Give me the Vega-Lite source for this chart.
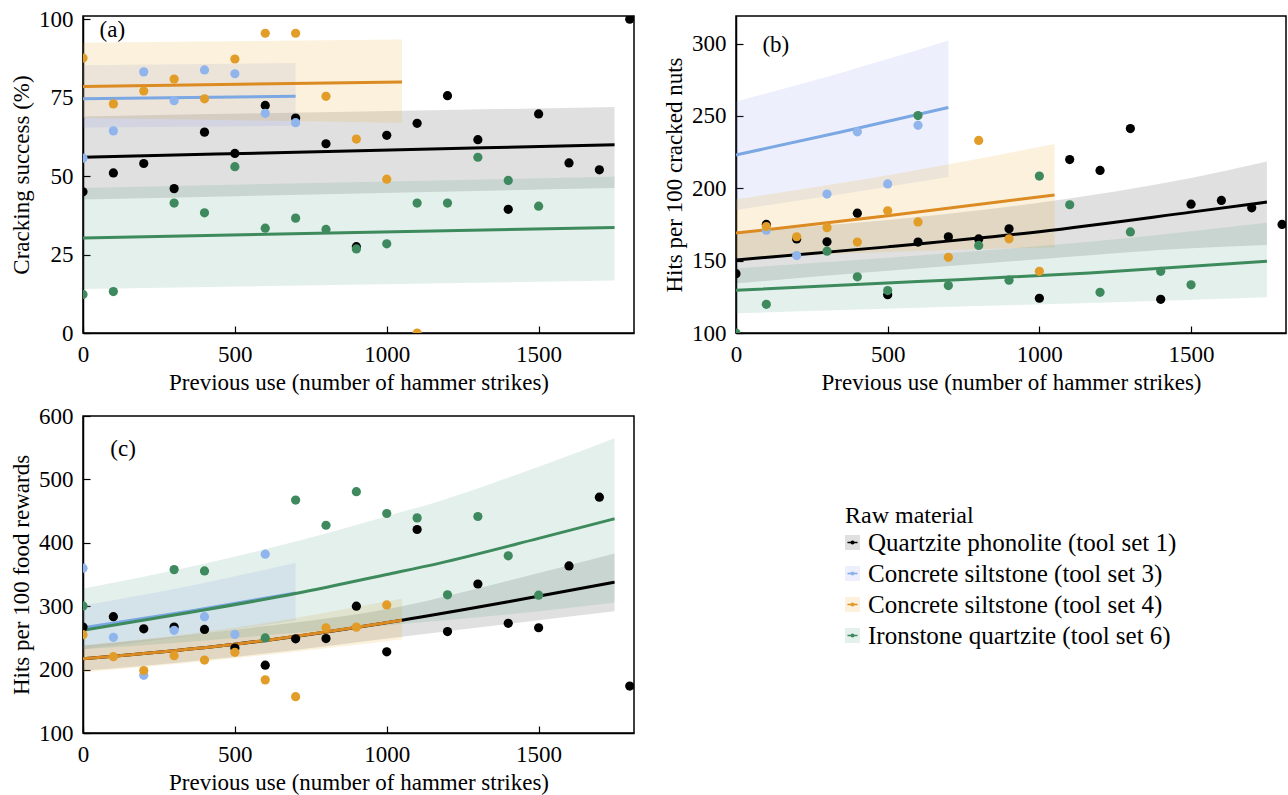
{
  "$schema": "https://vega.github.io/schema/vega-lite/v6.json",
  "background": "white",
  "padding": {"left": 9, "top": 7, "right": 0, "bottom": 0},
  "datasets": {
    "pts": [
      {"p":"a","m":"1","x":0,"y":45},{"p":"a","m":"1","x":100,"y":51},{"p":"a","m":"1","x":200,"y":54},{"p":"a","m":"1","x":300,"y":46},{"p":"a","m":"1","x":400,"y":64},{"p":"a","m":"1","x":500,"y":57.2},{"p":"a","m":"1","x":600,"y":72.5},{"p":"a","m":"1","x":700,"y":68.5},{"p":"a","m":"1","x":800,"y":60.3},{"p":"a","m":"1","x":900,"y":27.5},{"p":"a","m":"1","x":1000,"y":63},{"p":"a","m":"1","x":1100,"y":66.8},{"p":"a","m":"1","x":1200,"y":75.6},{"p":"a","m":"1","x":1300,"y":61.6},{"p":"a","m":"1","x":1400,"y":39.4},{"p":"a","m":"1","x":1500,"y":69.8},{"p":"a","m":"1","x":1600,"y":54.2},{"p":"a","m":"1","x":1700,"y":52},{"p":"a","m":"1","x":1800,"y":100},
      {"p":"a","m":"3","x":0,"y":55.7},{"p":"a","m":"3","x":100,"y":64.4},{"p":"a","m":"3","x":200,"y":83.2},{"p":"a","m":"3","x":300,"y":74},{"p":"a","m":"3","x":400,"y":83.8},{"p":"a","m":"3","x":500,"y":82.6},{"p":"a","m":"3","x":600,"y":70},{"p":"a","m":"3","x":700,"y":67},
      {"p":"a","m":"4","x":0,"y":87.6},{"p":"a","m":"4","x":100,"y":73},{"p":"a","m":"4","x":200,"y":77.1},{"p":"a","m":"4","x":300,"y":80.9},{"p":"a","m":"4","x":400,"y":74.6},{"p":"a","m":"4","x":500,"y":87.3},{"p":"a","m":"4","x":600,"y":95.5},{"p":"a","m":"4","x":700,"y":95.5},{"p":"a","m":"4","x":800,"y":75.4},{"p":"a","m":"4","x":900,"y":61.8},{"p":"a","m":"4","x":1000,"y":49},{"p":"a","m":"4","x":1100,"y":0},
      {"p":"a","m":"6","x":0,"y":12.3},{"p":"a","m":"6","x":100,"y":13.2},{"p":"a","m":"6","x":300,"y":41.4},{"p":"a","m":"6","x":400,"y":38.3},{"p":"a","m":"6","x":500,"y":53},{"p":"a","m":"6","x":600,"y":33.4},{"p":"a","m":"6","x":700,"y":36.6},{"p":"a","m":"6","x":800,"y":33},{"p":"a","m":"6","x":900,"y":26.8},{"p":"a","m":"6","x":1000,"y":28.4},{"p":"a","m":"6","x":1100,"y":41.4},{"p":"a","m":"6","x":1200,"y":41.4},{"p":"a","m":"6","x":1300,"y":56},{"p":"a","m":"6","x":1400,"y":48.6},{"p":"a","m":"6","x":1500,"y":40.4},
      {"p":"b","m":"1","x":0,"y":141},{"p":"b","m":"1","x":100,"y":175},{"p":"b","m":"1","x":200,"y":165},{"p":"b","m":"1","x":300,"y":163},{"p":"b","m":"1","x":400,"y":182.8},{"p":"b","m":"1","x":500,"y":126.5},{"p":"b","m":"1","x":600,"y":162.8},{"p":"b","m":"1","x":700,"y":166.5},{"p":"b","m":"1","x":800,"y":165},{"p":"b","m":"1","x":900,"y":172},{"p":"b","m":"1","x":1000,"y":124},{"p":"b","m":"1","x":1100,"y":219.8},{"p":"b","m":"1","x":1200,"y":212.3},{"p":"b","m":"1","x":1300,"y":241.2},{"p":"b","m":"1","x":1400,"y":123.3},{"p":"b","m":"1","x":1500,"y":189},{"p":"b","m":"1","x":1600,"y":191.6},{"p":"b","m":"1","x":1700,"y":186.5},{"p":"b","m":"1","x":1800,"y":175},
      {"p":"b","m":"3","x":100,"y":171},{"p":"b","m":"3","x":200,"y":153.5},{"p":"b","m":"3","x":300,"y":196},{"p":"b","m":"3","x":400,"y":239},{"p":"b","m":"3","x":500,"y":203},{"p":"b","m":"3","x":600,"y":243.5},
      {"p":"b","m":"4","x":100,"y":173.5},{"p":"b","m":"4","x":200,"y":166.5},{"p":"b","m":"4","x":300,"y":172.8},{"p":"b","m":"4","x":400,"y":162.8},{"p":"b","m":"4","x":500,"y":184.4},{"p":"b","m":"4","x":600,"y":176.7},{"p":"b","m":"4","x":700,"y":152.3},{"p":"b","m":"4","x":800,"y":233},{"p":"b","m":"4","x":900,"y":165.1},{"p":"b","m":"4","x":1000,"y":142.6},
      {"p":"b","m":"6","x":0,"y":100},{"p":"b","m":"6","x":100,"y":119.8},{"p":"b","m":"6","x":300,"y":156.5},{"p":"b","m":"6","x":400,"y":138.8},{"p":"b","m":"6","x":500,"y":129.3},{"p":"b","m":"6","x":600,"y":250.2},{"p":"b","m":"6","x":700,"y":132.8},{"p":"b","m":"6","x":800,"y":160.5},{"p":"b","m":"6","x":900,"y":136.5},{"p":"b","m":"6","x":1000,"y":208.4},{"p":"b","m":"6","x":1100,"y":188.6},{"p":"b","m":"6","x":1200,"y":128.1},{"p":"b","m":"6","x":1300,"y":169.8},{"p":"b","m":"6","x":1400,"y":142.6},{"p":"b","m":"6","x":1500,"y":133.3},
      {"p":"c","m":"1","x":0,"y":267},{"p":"c","m":"1","x":100,"y":283.5},{"p":"c","m":"1","x":200,"y":264.4},{"p":"c","m":"1","x":300,"y":267},{"p":"c","m":"1","x":400,"y":263.3},{"p":"c","m":"1","x":500,"y":234},{"p":"c","m":"1","x":600,"y":207},{"p":"c","m":"1","x":700,"y":248.5},{"p":"c","m":"1","x":800,"y":249},{"p":"c","m":"1","x":900,"y":300},{"p":"c","m":"1","x":1000,"y":228},{"p":"c","m":"1","x":1100,"y":421},{"p":"c","m":"1","x":1200,"y":260},{"p":"c","m":"1","x":1300,"y":335},{"p":"c","m":"1","x":1400,"y":273},{"p":"c","m":"1","x":1500,"y":266},{"p":"c","m":"1","x":1600,"y":363.5},{"p":"c","m":"1","x":1700,"y":472},{"p":"c","m":"1","x":1800,"y":174},
      {"p":"c","m":"3","x":0,"y":360},{"p":"c","m":"3","x":100,"y":251},{"p":"c","m":"3","x":200,"y":191},{"p":"c","m":"3","x":300,"y":262},{"p":"c","m":"3","x":400,"y":283.5},{"p":"c","m":"3","x":500,"y":255.4},{"p":"c","m":"3","x":600,"y":382},
      {"p":"c","m":"4","x":0,"y":255},{"p":"c","m":"4","x":100,"y":220.4},{"p":"c","m":"4","x":200,"y":198.6},{"p":"c","m":"4","x":300,"y":222},{"p":"c","m":"4","x":400,"y":215},{"p":"c","m":"4","x":500,"y":227.3},{"p":"c","m":"4","x":600,"y":183.8},{"p":"c","m":"4","x":700,"y":157.3},{"p":"c","m":"4","x":800,"y":266},{"p":"c","m":"4","x":900,"y":267},{"p":"c","m":"4","x":1000,"y":302},
      {"p":"c","m":"6","x":0,"y":300.4},{"p":"c","m":"6","x":300,"y":357.7},{"p":"c","m":"6","x":400,"y":355.6},{"p":"c","m":"6","x":600,"y":250},{"p":"c","m":"6","x":700,"y":467.4},{"p":"c","m":"6","x":800,"y":427.7},{"p":"c","m":"6","x":900,"y":480.7},{"p":"c","m":"6","x":1000,"y":446.2},{"p":"c","m":"6","x":1100,"y":439.3},{"p":"c","m":"6","x":1200,"y":317.9},{"p":"c","m":"6","x":1300,"y":441.5},{"p":"c","m":"6","x":1400,"y":379.4},{"p":"c","m":"6","x":1500,"y":317.4}
    ],
    "fit": [
      {"p":"a","m":"1","x":0,"y":56,"lo":42.5,"hi":69},{"p":"a","m":"1","x":875,"y":58,"lo":44.4,"hi":70.5},{"p":"a","m":"1","x":1750,"y":60,"lo":46.2,"hi":72},
      {"p":"a","m":"3","x":0,"y":74.6,"lo":65.5,"hi":85.3},{"p":"a","m":"3","x":700,"y":75.4,"lo":66,"hi":86},
      {"p":"a","m":"4","x":0,"y":78.5,"lo":68.5,"hi":92.5},{"p":"a","m":"4","x":1050,"y":80,"lo":67,"hi":93.5},
      {"p":"a","m":"6","x":0,"y":30.3,"lo":14,"hi":46.2},{"p":"a","m":"6","x":1750,"y":33.6,"lo":16.7,"hi":49.8},
      {"p":"b","m":"1","x":0,"y":150.4,"lo":134.3,"hi":170},{"p":"b","m":"1","x":500,"y":159.5,"lo":143,"hi":178},{"p":"b","m":"1","x":1000,"y":170,"lo":151,"hi":190},{"p":"b","m":"1","x":1500,"y":183.5,"lo":158.5,"hi":207},{"p":"b","m":"1","x":1750,"y":190.5,"lo":160.8,"hi":218.4},
      {"p":"b","m":"3","x":0,"y":223,"lo":185,"hi":260},{"p":"b","m":"3","x":350,"y":239,"lo":196,"hi":280},{"p":"b","m":"3","x":700,"y":255.8,"lo":207.7,"hi":302},
      {"p":"b","m":"4","x":0,"y":169,"lo":152,"hi":192.4},{"p":"b","m":"4","x":500,"y":181,"lo":156,"hi":209},{"p":"b","m":"4","x":1050,"y":195.3,"lo":159.3,"hi":230.5},
      {"p":"b","m":"6","x":0,"y":129.5,"lo":113.6,"hi":144.7},{"p":"b","m":"6","x":600,"y":135.5,"lo":117.5,"hi":153.5},{"p":"b","m":"6","x":1165,"y":141.5,"lo":120.8,"hi":163},{"p":"b","m":"6","x":1750,"y":149.5,"lo":124.7,"hi":176.2},
      {"p":"c","m":"1","x":0,"y":217,"lo":198,"hi":238},{"p":"c","m":"1","x":500,"y":240,"lo":220,"hi":263},{"p":"c","m":"1","x":1050,"y":278,"lo":252,"hi":300},{"p":"c","m":"1","x":1400,"y":307,"lo":272,"hi":340},{"p":"c","m":"1","x":1750,"y":338,"lo":292,"hi":383},
      {"p":"c","m":"3","x":0,"y":266,"lo":232,"hi":301},{"p":"c","m":"3","x":350,"y":292,"lo":253,"hi":332},{"p":"c","m":"3","x":700,"y":321,"lo":277,"hi":368},
      {"p":"c","m":"4","x":0,"y":217,"lo":196,"hi":238},{"p":"c","m":"4","x":500,"y":240,"lo":218,"hi":266},{"p":"c","m":"4","x":1050,"y":278,"lo":248,"hi":312},
      {"p":"c","m":"6","x":0,"y":262,"lo":232,"hi":328},{"p":"c","m":"6","x":350,"y":290,"lo":244,"hi":362},{"p":"c","m":"6","x":700,"y":320,"lo":258,"hi":402},{"p":"c","m":"6","x":1000,"y":350,"lo":270,"hi":442},{"p":"c","m":"6","x":1175,"y":368,"lo":277,"hi":466},{"p":"c","m":"6","x":1500,"y":407,"lo":292,"hi":520},{"p":"c","m":"6","x":1750,"y":438,"lo":306,"hi":565}
    ],
    "lab": [
      {"p":"a","x":54.6,"y":96.4,"t":"(a)"},
      {"p":"b","x":87,"y":299,"t":"(b)"},
      {"p":"c","x":90,"y":547.6,"t":"(c)"}
    ]
  },
  "vconcat": [
    {
      "hconcat": [
        {
          "width": 551, "height": 317,
          "layer": [
            {"data": {"name": "fit"}, "transform": [{"filter": "datum.p == 'a'"}],
             "mark": {"type": "area", "clip": true, "interpolate": "monotone"},
             "encoding": {
               "x": {"field": "x", "type": "quantitative", "scale": {"domain": [0, 1814], "nice": false}, "axis": {"values": [0, 500, 1000, 1500], "format": "d", "title": "Previous use (number of hammer strikes)"}},
               "y": {"field": "lo", "type": "quantitative", "stack": null, "scale": {"domain": [0, 101], "nice": false}, "axis": {"values": [0, 25, 50, 75, 100], "format": "d", "title": "Cracking success (%)"}},
               "y2": {"field": "hi"},
               "fill": {"field": "m", "type": "nominal", "scale": {"domain": ["1","3","4","6"], "range": ["rgba(0,0,0,0.12)", "rgba(115,140,235,0.13)", "rgba(230,170,40,0.16)", "rgba(50,140,110,0.13)"]},
                        "legend": {"title": "Raw material", "orient": "none", "legendX": 762, "legendY": 488, "symbolType": "square", "symbolSize": 225, "symbolStrokeWidth": 0, "labelExpr": "datum.label == '1' ? 'Quartzite phonolite (tool set 1)' : datum.label == '3' ? 'Concrete siltstone (tool set 3)' : datum.label == '4' ? 'Concrete siltstone (tool set 4)' : 'Ironstone quartzite (tool set 6)'"}}
             }},
            {"data": {"name": "fit"}, "transform": [{"filter": "datum.p == 'a'"}],
             "mark": {"type": "line", "strokeWidth": 3, "clip": true, "interpolate": "monotone"},
             "encoding": {
               "x": {"field": "x", "type": "quantitative"},
               "y": {"field": "y", "type": "quantitative"},
               "stroke": {"field": "m", "type": "nominal", "scale": {"range": ["#000000", "#7ba7e3", "#dc8a22", "#3d8a5c"]},
                          "legend": {"title": "Raw material", "orient": "none", "legendX": 762, "legendY": 488, "symbolType": "M-0.67,0H0.67", "symbolSize": 225, "symbolStrokeWidth": 1.5, "labelOpacity": 0, "titleOpacity": 0, "labelExpr": "datum.label == '1' ? 'Quartzite phonolite (tool set 1)' : datum.label == '3' ? 'Concrete siltstone (tool set 3)' : datum.label == '4' ? 'Concrete siltstone (tool set 4)' : 'Ironstone quartzite (tool set 6)'"}},
               "opacity": {"field": "m", "type": "nominal", "scale": {"range": [1, 1, 0.65, 1]}, "legend": null}
             }},
            {"data": {"name": "pts"}, "transform": [{"filter": "datum.p == 'a'"}],
             "mark": {"type": "circle", "size": 85, "opacity": 1, "clip": true},
             "encoding": {
               "x": {"field": "x", "type": "quantitative"},
               "y": {"field": "y", "type": "quantitative"},
               "color": {"field": "m", "type": "nominal", "scale": {"range": ["#000000", "#8fb5ec", "#e29c28", "#3e8a5e"]},
                         "legend": {"title": "Raw material", "orient": "none", "legendX": 762, "legendY": 488, "symbolType": "M0.27,0A0.27,0.27,0,1,1,-0.27,0A0.27,0.27,0,1,1,0.27,0Z", "symbolSize": 225, "symbolStrokeWidth": 0, "labelOpacity": 0, "titleOpacity": 0, "labelExpr": "datum.label == '1' ? 'Quartzite phonolite (tool set 1)' : datum.label == '3' ? 'Concrete siltstone (tool set 3)' : datum.label == '4' ? 'Concrete siltstone (tool set 4)' : 'Ironstone quartzite (tool set 6)'"}}
             }},
            {"data": {"name": "lab"}, "transform": [{"filter": "datum.p == 'a'"}],
             "mark": {"type": "text", "align": "left", "baseline": "middle", "fontSize": 23, "font": "Liberation Serif", "color": "black"},
             "encoding": {"x": {"field": "x", "type": "quantitative"}, "y": {"field": "y", "type": "quantitative"}, "text": {"field": "t"}}}
          ]
        },
        {
          "width": 550, "height": 317,
          "layer": [
            {"data": {"name": "fit"}, "transform": [{"filter": "datum.p == 'b'"}],
             "mark": {"type": "area", "clip": true, "interpolate": "monotone"},
             "encoding": {
               "x": {"field": "x", "type": "quantitative", "scale": {"domain": [0, 1813], "nice": false}, "axis": {"values": [0, 500, 1000, 1500], "format": "d", "title": "Previous use (number of hammer strikes)"}},
               "y": {"field": "lo", "type": "quantitative", "stack": null, "scale": {"domain": [100, 319], "nice": false}, "axis": {"values": [100, 150, 200, 250, 300], "format": "d", "title": "Hits per 100 cracked nuts"}},
               "y2": {"field": "hi"},
               "fill": {"field": "m", "type": "nominal"}
             }},
            {"data": {"name": "fit"}, "transform": [{"filter": "datum.p == 'b'"}],
             "mark": {"type": "line", "strokeWidth": 3, "clip": true, "interpolate": "monotone"},
             "encoding": {
               "x": {"field": "x", "type": "quantitative"},
               "y": {"field": "y", "type": "quantitative"},
               "stroke": {"field": "m", "type": "nominal"},
               "opacity": {"field": "m", "type": "nominal", "legend": null}
             }},
            {"data": {"name": "pts"}, "transform": [{"filter": "datum.p == 'b'"}],
             "mark": {"type": "circle", "size": 85, "opacity": 1, "clip": true},
             "encoding": {
               "x": {"field": "x", "type": "quantitative"},
               "y": {"field": "y", "type": "quantitative"},
               "color": {"field": "m", "type": "nominal"}
             }},
            {"data": {"name": "lab"}, "transform": [{"filter": "datum.p == 'b'"}],
             "mark": {"type": "text", "align": "left", "baseline": "middle", "fontSize": 23, "font": "Liberation Serif", "color": "black"},
             "encoding": {"x": {"field": "x", "type": "quantitative"}, "y": {"field": "y", "type": "quantitative"}, "text": {"field": "t"}}}
          ]
        }
      ],
      "spacing": 27,
      "resolve": {"scale": {"x": "independent", "y": "independent"}}
    },
    {
      "width": 551, "height": 317,
      "layer": [
        {"data": {"name": "fit"}, "transform": [{"filter": "datum.p == 'c'"}],
         "mark": {"type": "area", "clip": true, "interpolate": "monotone"},
         "encoding": {
           "x": {"field": "x", "type": "quantitative", "scale": {"domain": [0, 1814], "nice": false}, "axis": {"values": [0, 500, 1000, 1500], "format": "d", "title": "Previous use (number of hammer strikes)"}},
           "y": {"field": "lo", "type": "quantitative", "stack": null, "scale": {"domain": [100, 600], "nice": false}, "axis": {"values": [100, 200, 300, 400, 500, 600], "format": "d", "title": "Hits per 100 food rewards"}},
           "y2": {"field": "hi"},
           "fill": {"field": "m", "type": "nominal"}
         }},
        {"data": {"name": "fit"}, "transform": [{"filter": "datum.p == 'c'"}],
         "mark": {"type": "line", "strokeWidth": 3, "clip": true, "interpolate": "monotone"},
         "encoding": {
           "x": {"field": "x", "type": "quantitative"},
           "y": {"field": "y", "type": "quantitative"},
           "stroke": {"field": "m", "type": "nominal"},
           "opacity": {"field": "m", "type": "nominal", "legend": null}
         }},
        {"data": {"name": "pts"}, "transform": [{"filter": "datum.p == 'c'"}],
         "mark": {"type": "circle", "size": 85, "opacity": 1, "clip": true},
         "encoding": {
           "x": {"field": "x", "type": "quantitative"},
           "y": {"field": "y", "type": "quantitative"},
           "color": {"field": "m", "type": "nominal"}
         }},
        {"data": {"name": "lab"}, "transform": [{"filter": "datum.p == 'c'"}],
         "mark": {"type": "text", "align": "left", "baseline": "middle", "fontSize": 23, "font": "Liberation Serif", "color": "black"},
         "encoding": {"x": {"field": "x", "type": "quantitative"}, "y": {"field": "y", "type": "quantitative"}, "text": {"field": "t"}}}
      ]
    }
  ],
  "spacing": 9,
  "resolve": {"scale": {"x": "independent", "y": "independent"}},
  "config": {
    "font": "Liberation Serif",
    "view": {"stroke": "black", "strokeWidth": 1.5},
    "axis": {"domainColor": "black", "domainWidth": 1.5, "tickColor": "black", "tickSize": -7, "tickWidth": 1.2, "labelFontSize": 23, "titleFontSize": 23, "labelColor": "black", "titleColor": "black", "titleFontWeight": "normal", "grid": false, "labelFlush": false, "labelOverlap": false, "labelPadding": 17, "titlePadding": 5},
    "legend": {"padding": 0, "labelFontSize": 25, "titleFontSize": 24, "titleFontWeight": "normal", "labelColor": "black", "titleColor": "black", "symbolOffset": -5, "labelOffset": 3, "rowPadding": 5, "titlePadding": 2, "labelLimit": 0}
  }
}
